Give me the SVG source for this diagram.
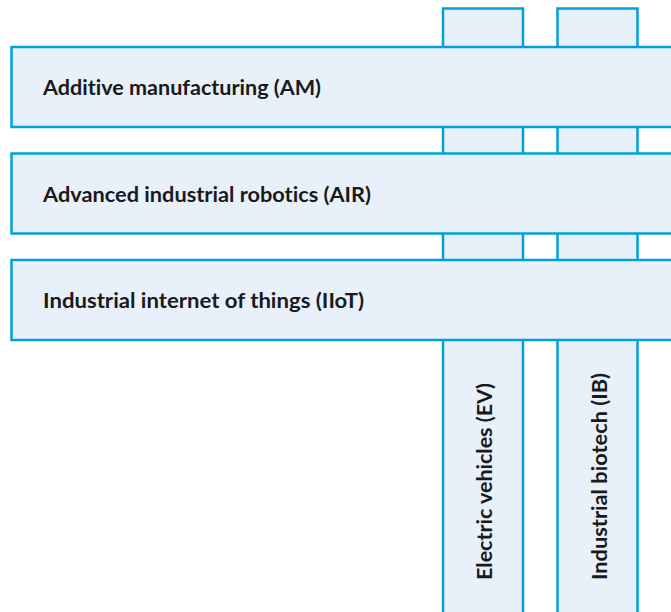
<svg xmlns="http://www.w3.org/2000/svg" width="671" height="612" viewBox="0 0 671 612">
  <style>
    .bar { fill: #e8f0fa; stroke: #00a0dc; stroke-width: 2.5; }
    .lbl { font-family: Lato, "Open Sans", "Noto Sans", sans-serif; font-weight: 700; font-size: 20px; fill: #1a1a1a; font-variant-ligatures: none; font-feature-settings: "liga" 0, "dlig" 0; }
  </style>
  <rect width="671" height="612" fill="#ffffff"/>
  <!-- vertical columns (drawn first, crossed by the rows) -->
  <g id="ev">
    <rect class="bar" x="443" y="8.5" width="80" height="620"/>
    <text class="lbl" transform="translate(491.5 580) rotate(-90)" textLength="197" lengthAdjust="spacingAndGlyphs">Electric vehicles (EV)</text>
  </g>
  <g id="ib">
    <rect class="bar" x="557.5" y="8.5" width="80" height="620"/>
    <text class="lbl" transform="translate(606.5 580) rotate(-90)" textLength="207" lengthAdjust="spacingAndGlyphs">Industrial biotech (IB)</text>
  </g>
  <!-- horizontal rows -->
  <g id="am">
    <rect class="bar" x="11.5" y="47" width="670" height="80"/>
    <text class="lbl" x="43" y="94.5" textLength="278" lengthAdjust="spacingAndGlyphs">Additive manufacturing (AM)</text>
  </g>
  <g id="air">
    <rect class="bar" x="11.5" y="153.5" width="670" height="80"/>
    <text class="lbl" x="43" y="201.5" textLength="328" lengthAdjust="spacingAndGlyphs">Advanced industrial robotics (AIR)</text>
  </g>
  <g id="iiot">
    <rect class="bar" x="11.5" y="260" width="670" height="80"/>
    <text class="lbl" x="43" y="307.5" textLength="321" lengthAdjust="spacingAndGlyphs">Industrial internet of things (IIoT)</text>
  </g>
  <g id="connectors"></g>
</svg>
